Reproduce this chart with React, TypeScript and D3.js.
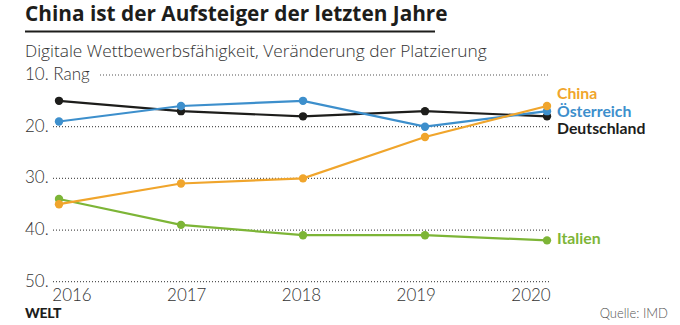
import React from "react";
import * as d3 from "d3";

const years = ["2016", "2017", "2018", "2019", "2020"];
const china = [35, 31, 30, 22, 16];
const oesterreich = [19, 16, 15, 20, 17];
const deutschland = [15, 17, 18, 17, 18];
const italien = [34, 39, 41, 41, 42];
const yTicks = [10, 20, 30, 40, 50];
const yTickLabels = ["10. Rang", "20.", "30.", "40.", "50."];

const title = "China ist der Aufsteiger der letzten Jahre";
const subtitle = "Digitale Wettbewerbsfähigkeit, Veränderung der Platzierung";

const seriesDefs = [
  { name: "Deutschland", values: deutschland, color: "#1d1d1b", labelY: 134 },
  { name: "Italien", values: italien, color: "#7db537", labelY: 244 },
  { name: "Österreich", values: oesterreich, color: "#3d8fcc", labelY: 116.5 },
  { name: "China", values: china, color: "#f0a52c", labelY: 99 },
];

export default function App() {
  const x = d3.scalePoint<string>().domain(years).range([59, 547]);
  const xLabel = d3.scalePoint<string>().domain(years).range([72, 531]);
  const y = d3.scaleLinear().domain([10, 50]).range([75, 281.7]);
  const line = d3
    .line<number>()
    .x((_, i) => x(years[i]) as number)
    .y((d) => y(d));

  const font = "Lato, 'Open Sans', sans-serif";
  const wide = "'Open Sans', Lato, sans-serif";

  return (
    <svg
      width={680}
      height={325}
      style={{ position: "absolute", left: 0, top: 0, background: "#fff" }}
      fontFamily={font}
    >
      <rect width={680} height={325} fill="#fff" />
      <text x={25} y={21} fontSize={20.8} fontWeight={700} fill="#1d1d1b" fontFamily={wide}>
        {title}
      </text>
      <rect x={25} y={30.5} width={410} height={2} fill="#1d1d1b" />
      <text x={25} y={57} fontSize={17.3} fontWeight={300} fill="#333" fontFamily={wide}>
        {subtitle}
      </text>

      {yTicks.map((t, i) => {
        const labelW = i === 0 ? 75 : 28;
        return (
          <g key={t}>
            <text x={25} y={y(t) + 5} fontSize={17} fontWeight={300} fill="#333">
              {yTickLabels[i]}
            </text>
            <line
              x1={25 + labelW}
              x2={550}
              y1={y(t)}
              y2={y(t)}
              stroke="#555"
              strokeWidth={1.2}
              strokeDasharray="1,2"
            />
          </g>
        );
      })}

      {years.map((yr) => (
        <text
          key={yr}
          x={xLabel(yr)}
          y={301}
          textAnchor="middle"
          fontSize={17}
          fontWeight={300}
          fill="#333"
        >
          {yr}
        </text>
      ))}

      {seriesDefs.map((s) => (
        <g key={s.name}>
          <path d={line(s.values) || ""} fill="none" stroke={s.color} strokeWidth={2.2} />
          {s.values.map((v, i) => (
            <circle key={i} cx={x(years[i])} cy={y(v)} r={4.2} fill={s.color} />
          ))}
          <text x={557} y={s.labelY} fontSize={15.8} fontWeight={700} fill={s.color}>
            {s.name}
          </text>
        </g>
      ))}

      <text x={25} y={318} fontSize={14} fontWeight={900} fill="#1d1d1b" letterSpacing={-0.3}>
        WELT
      </text>
      <text x={668} y={318} textAnchor="end" fontSize={13} fontWeight={300} fill="#555">
        Quelle: IMD
      </text>
    </svg>
  );
}
